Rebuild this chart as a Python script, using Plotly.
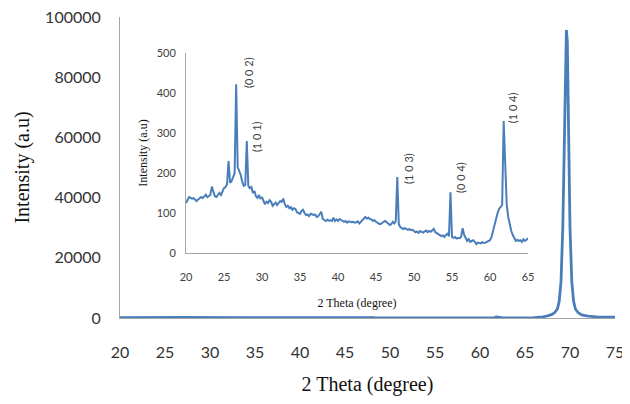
import numpy as np
import plotly.graph_objects as go

# ---- inset data: 2 Theta 20..65 (step 0.2) ----
inset_x = np.round(np.arange(226) * 0.2 + 20, 1).tolist()
inset_y = [
    125, 135, 140, 138, 136, 137, 133, 130, 134, 138,
    140, 137, 143, 146, 140, 143, 145, 166, 150, 142,
    140, 146, 150, 145, 152, 162, 165, 172, 230, 175,
    180, 190, 200, 422, 215, 205, 195, 178, 168, 170,
    280, 168, 162, 165, 150, 155, 142, 138, 145, 135,
    140, 130, 122, 128, 125, 132, 128, 118, 122, 126,
    120, 125, 130, 128, 136, 122, 115, 118, 112, 115,
    108, 112, 110, 102, 100, 98, 105, 108, 100, 95,
    96, 92, 98, 97, 95, 96, 90, 92, 98, 103,
    85, 82, 80, 83, 81, 82, 80, 88, 80, 84,
    80, 85, 82, 79, 78, 80, 76, 79, 78, 77,
    78, 76, 77, 79, 74, 78, 82, 88, 90, 86,
    88, 85, 84, 80, 82, 78, 75, 73, 72, 76,
    78, 80, 78, 74, 70, 72, 78, 74, 80, 190,
    72, 65, 62, 60, 62, 60, 58, 60, 57, 58,
    55, 52, 54, 50, 55, 52, 51, 54, 56, 52,
    55, 53, 58, 60, 52, 50, 48, 45, 42, 44,
    40, 45, 48, 42, 152, 40, 38, 40, 36, 38,
    37, 40, 62, 45, 38, 30, 35, 28, 30, 32,
    28, 22, 26, 25, 24, 27, 25, 26, 28, 30,
    32, 40, 55, 70, 88, 100, 110, 114, 120, 330,
    200, 120, 90, 70, 55, 45, 35, 30, 33, 30,
    32, 28, 34, 30, 33, 37,
]

# ---- main data tail: 65..75 with the strong reflection ----
tail_x = [65.5, 66, 66.5, 67, 67.5, 68, 68.3, 68.6, 68.8, 69.0, 69.2, 69.4, 69.5,
          69.6, 69.7, 69.8, 70.0, 70.2, 70.4, 70.6, 70.9, 71.3, 72, 73, 74, 75]
tail_y = [60, 100, 200, 400, 700, 1200, 1800, 3000, 5500, 12000, 30000, 70000, 90000,
          95700, 92000, 70000, 30000, 12000, 5500, 3000, 1800, 1000, 600, 400, 300, 250]

main_x = inset_x + tail_x
main_y = inset_y + tail_y

main_xticks = [20, 25, 30, 35, 40, 45, 50, 55, 60, 65, 70, 75]
main_yticks = [0, 20000, 40000, 60000, 80000, 100000]
inset_xticks = [20, 25, 30, 35, 40, 45, 50, 55, 60, 65]
inset_yticks = [0, 100, 200, 300, 400, 500]

peak_labels = ["(0 0 2)", "(1 0 1)", "(1 0 3)", "(0 0 4)", "(1 0 4)"]
peak_label_x = [28.16, 29.2, 49.3, 56.2, 62.9]
peak_label_y = [450, 292, 212, 188, 362]

LINE = "#4a7ebb"
AXIS = "#a6a6a6"
SANS = "Lato"
SERIF = "Liberation Serif"

fig = go.Figure()
fig.add_trace(go.Scatter(x=main_x, y=main_y, mode="lines",
                         line=dict(color=LINE, width=2.8), xaxis="x", yaxis="y",
                         showlegend=False, hoverinfo="skip"))
fig.add_trace(go.Scatter(x=inset_x, y=inset_y, mode="lines",
                         line=dict(color=LINE, width=2), xaxis="x2", yaxis="y2",
                         showlegend=False, hoverinfo="skip"))

for t, ax, ay in zip(peak_labels, peak_label_x, peak_label_y):
    fig.add_annotation(text=t, x=ax, y=ay, xref="x2", yref="y2", showarrow=False,
                       textangle=-90, xanchor="center", yanchor="middle",
                       font=dict(family=SANS, size=11, color="#404040"))

# inset domains expressed for a plot area of 495 x 301 px
in_x0, in_x1 = 66 / 495, 408 / 495
in_y0, in_y1 = 65 / 301, 265 / 301

# page body has an 8px margin, so the figure is sized/offset to compensate
fig.update_layout(
    width=622, height=396,
    margin=dict(l=112, r=15, t=9, b=86),
    paper_bgcolor="white", plot_bgcolor="rgba(0,0,0,0)",
    xaxis=dict(domain=[0, 1], range=[20, 75], tickvals=main_xticks, automargin=False,
               ticklabeloverflow="allow",
               showline=True, linecolor=AXIS, linewidth=1, showgrid=False, zeroline=False,
               ticks="outside", ticklen=20, tickcolor="rgba(0,0,0,0)",
               tickfont=dict(family=SANS, size=16, color="#333333"),
               title=dict(text="2 Theta (degree)", standoff=16,
                          font=dict(family=SERIF, size=20, color="#111111"))),
    yaxis=dict(domain=[0, 1], range=[0, 100000], tickvals=main_yticks, tickformat="d",
               automargin=False, ticklabeloverflow="allow",
               showline=True, linecolor=AXIS, linewidth=1, showgrid=False, zeroline=False,
               ticks="outside", ticklen=15, tickcolor="rgba(0,0,0,0)",
               tickfont=dict(family=SANS, size=16, color="#333333"),
               title=dict(text="Intensity (a.u)", standoff=10,
                          font=dict(family=SERIF, size=20, color="#111111"))),
    xaxis2=dict(domain=[in_x0, in_x1], anchor="y2", range=[20, 65], tickvals=inset_xticks,
                automargin=False, ticklabeloverflow="allow",
                showline=True, linecolor=AXIS, linewidth=1, showgrid=False, zeroline=False,
                ticks="outside", ticklen=14, tickcolor="rgba(0,0,0,0)",
                tickfont=dict(family=SANS, size=11, color="#404040"),
                title=dict(text="2 Theta (degree)", standoff=16,
                           font=dict(family=SERIF, size=12, color="#111111"))),
    yaxis2=dict(domain=[in_y0, in_y1], anchor="x2", range=[0, 500], tickvals=inset_yticks,
                automargin=False, ticklabeloverflow="allow",
                showline=True, linecolor=AXIS, linewidth=1, showgrid=False, zeroline=False,
                ticks="outside", ticklen=7, tickcolor="rgba(0,0,0,0)",
                tickfont=dict(family=SANS, size=11, color="#404040"),
                title=dict(text="Intensity (a.u)", standoff=6,
                           font=dict(family=SERIF, size=12, color="#111111"))),
)

fig.write_html("out.html")
